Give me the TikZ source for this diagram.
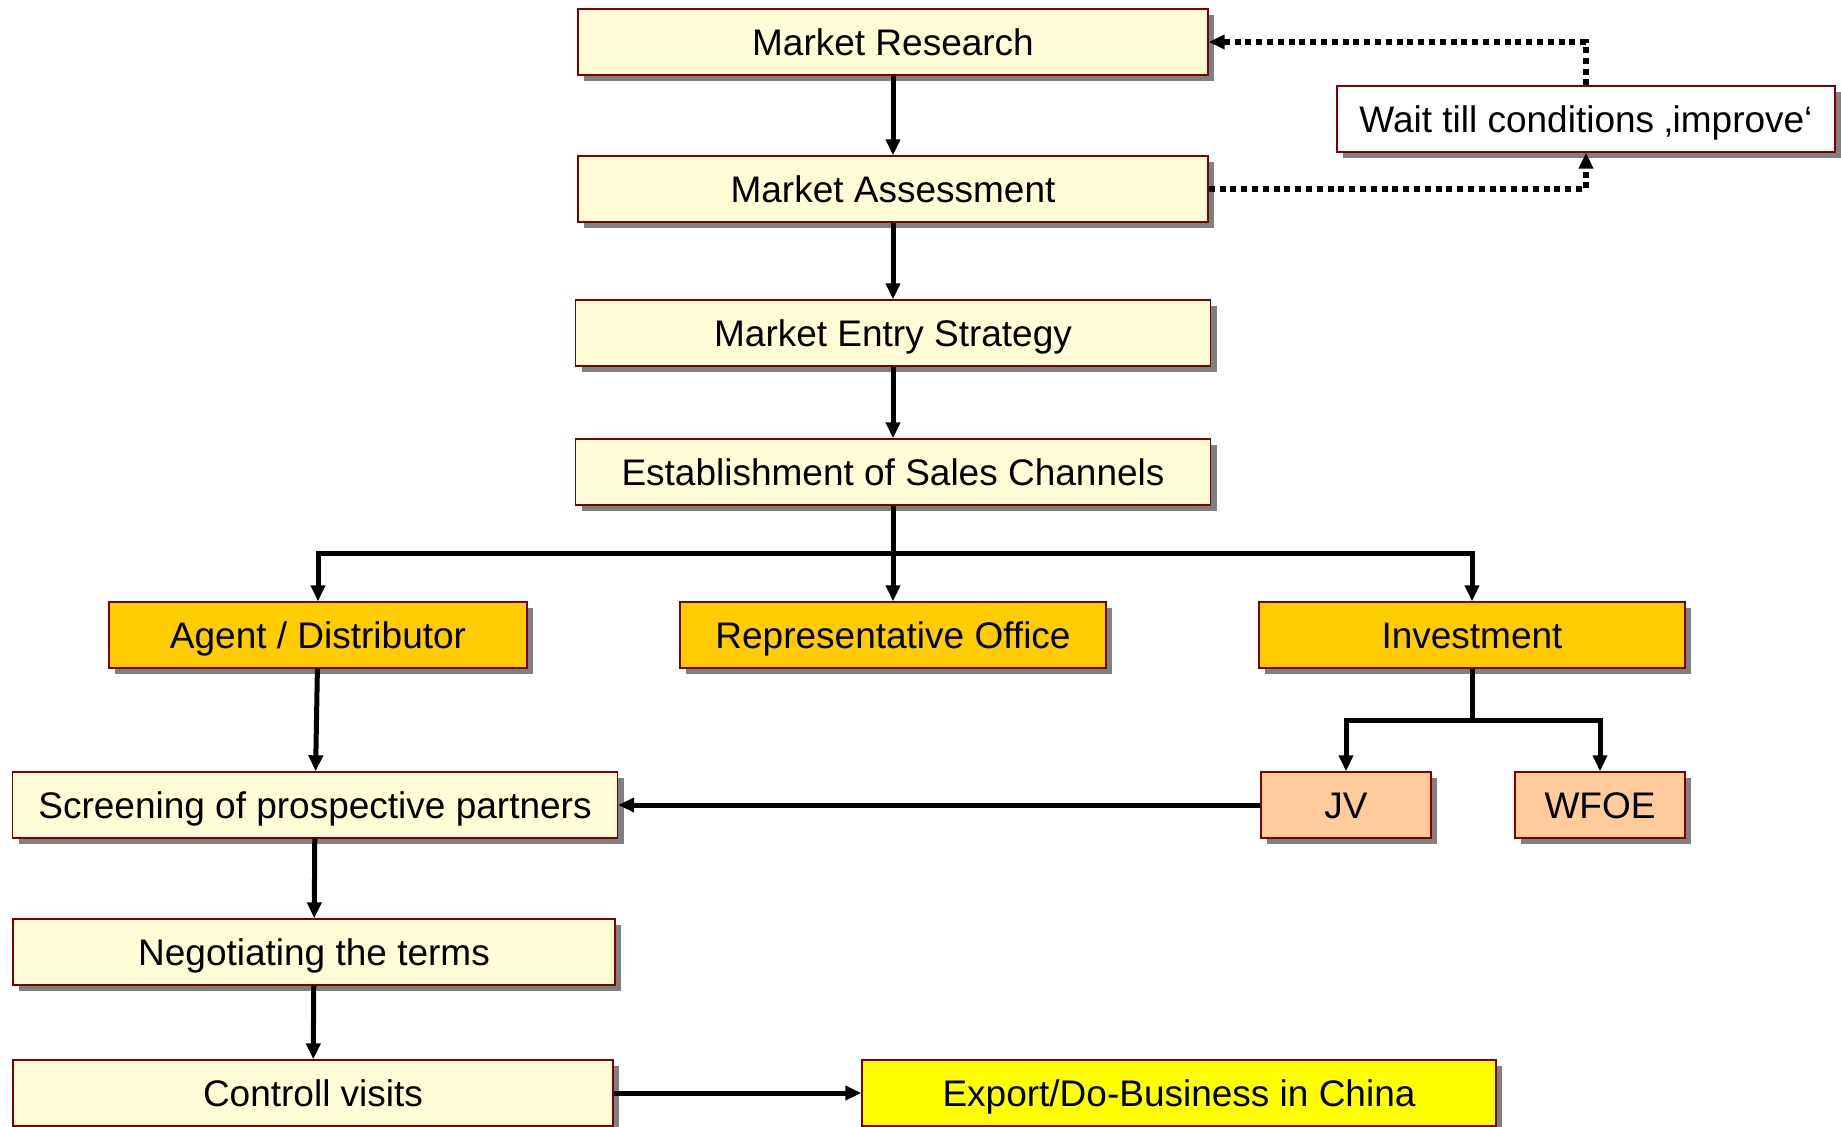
\documentclass[tikz,border=0pt]{standalone}
\usepackage{fontspec}
\setmainfont{Liberation Sans}
\usetikzlibrary{arrows.meta,shadows}
\definecolor{EdgeClr}{rgb}{0.5,0,0}
\definecolor{StepClr}{rgb}{1,0.99,0.84}
\definecolor{ChannelClr}{rgb}{1,0.8,0}
\definecolor{FormClr}{rgb}{1,0.8,0.6}
\definecolor{GoalClr}{rgb}{1,1,0}

\tikzset{
  box/.style={draw=EdgeClr,line width=0.7pt,minimum height=33pt,inner sep=0pt,
    text height=15.5pt,text depth=2pt,
    font=\fontsize{18.5}{22}\selectfont,
    drop shadow={shadow xshift=3pt,shadow yshift=-3pt,fill=black!50,opacity=1}},
  stepbox/.style={box,fill=StepClr,minimum width=#1},
  channelbox/.style={box,fill=ChannelClr,minimum width=#1},
  formbox/.style={box,fill=FormClr,minimum width=#1},
  link/.style={line width=2.5pt,-{Triangle[length=8pt,width=7pt]}},
  waitlink/.style={line width=2.6pt,dash pattern=on 3pt off 2.4pt,-{Triangle[length=8pt,width=7pt]}}
}

\begin{document}
\begin{tikzpicture}[x=0.5pt,y=-0.5pt]
\useasboundingbox (0,0) rectangle (1841,1126);

\node[stepbox=315pt] (research) at (893,42) {Market Research};
\node[stepbox=315pt] (assess) at (893,189) {Market Assessment};
\node[stepbox=317.5pt] (entry) at (893,333) {Market Entry Strategy};
\node[stepbox=317.5pt] (channels) at (893,472) {Establishment of Sales Channels};
\node[box,fill=white,minimum width=249pt] (wait) at (1586,119) {Wait till conditions ‚improve‘};

\node[channelbox=209pt] (agent) at (318,635) {Agent / Distributor};
\node[channelbox=213pt] (rep) at (893,635) {Representative Office};
\node[channelbox=213pt] (invest) at (1472,635) {Investment};

\node[stepbox=302.5pt] (screen) at (315,805) {Screening of prospective partners};
\node[formbox=85pt] (jv) at (1346,805) {JV};
\node[formbox=85pt] (wfoe) at (1600,805) {WFOE};
\node[stepbox=301pt] (terms) at (314,952) {Negotiating the terms};
\node[stepbox=300pt] (visits) at (313,1093) {Controll visits};
\node[box,fill=GoalClr,minimum width=317pt] (export) at (1179,1093) {Export/Do-Business in China};

\coordinate (fork) at (893,553);
\coordinate (invfork) at (1472,720);

\draw[link] (research) -- (assess);
\draw[link] (assess) -- (entry);
\draw[link] (entry) -- (channels);
\draw[link] (channels) -- (rep);
\draw[link] (fork) -| (agent);
\draw[link] (fork) -| (invest);
\draw[line width=2.5pt] (invest.south) -- (invfork);
\draw[link] (invfork) -| (jv);
\draw[link] (invfork) -| (wfoe);
\draw[link] (agent) -- (screen);
\draw[link] (jv) -- (screen);
\draw[link] (screen) -- (terms);
\draw[link] (terms) -- (visits);
\draw[link] (visits) -- (export);

\draw[waitlink] (wait.north) |- (research.east);
\draw[waitlink] (assess.east) -| (wait.south);
\end{tikzpicture}
\end{document}
